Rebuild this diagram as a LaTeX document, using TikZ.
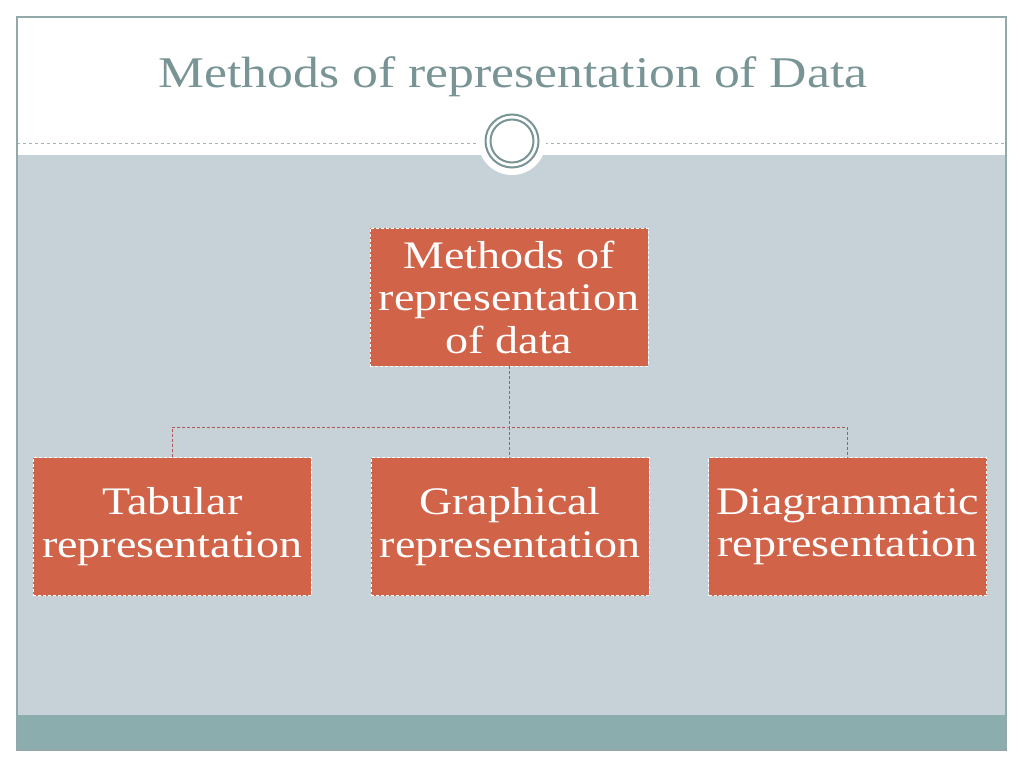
\documentclass[tikz,border=0pt]{standalone}
\usepackage{fontspec}
\setmainfont[FakeStretch=1.18]{Liberation Serif}
\usetikzlibrary{positioning}

\definecolor{slide}{RGB}{198,210,216}
\definecolor{band}{RGB}{139,173,173}
\definecolor{titlegray}{RGB}{120,148,148}
\definecolor{boxred}{RGB}{209,99,73}
\definecolor{linkred}{RGB}{172,92,84}

\begin{document}
\begin{tikzpicture}[
    x=1pt, y=-1pt,
    block/.style={rectangle, draw=white, densely dashed, line width=0.6pt, fill=boxred,
      text=white, minimum width=278pt, minimum height=138pt, align=center,
      inner sep=2pt, font=\fontsize{39}{42.5}\selectfont},
    link/.style={draw=linkred, densely dashed, line width=1pt},
    frame/.style={draw=titlegray!80, line width=1.2pt}
]
\useasboundingbox[fill=white] (0,0) rectangle (1024,768);

% Slide background
\fill[slide] (17,155) rectangle (1006,715);
\fill[band] (17,715) rectangle (1006,750);
\draw[titlegray!70, dashed, line width=0.8pt] (17,143) -- (1006,143);
\draw[frame] (17,17) rectangle (1006,750);

% Title
\node[text=titlegray, font=\fontsize{43.8}{50}\selectfont] (title) at (513,77) {Methods of representation of Data};

% Ornament
\fill[white] (512,141) circle (34);
\draw[titlegray, line width=2pt] (512,141) circle (26.5);
\draw[titlegray, line width=2pt] (512,141) circle (21.5);

% Root
\node[block] (root) at (509,297) {Methods of\\representation\\of data};

% Children
\node[block, below=91pt of root, xshift=1pt] (graph) {Graphical\\representation};
\node[block, left=59pt of graph] (tab) {Tabular\\representation};
\node[block, right=59pt of graph] (diag) {Diagrammatic\\representation};

% Connectors
\coordinate (bus) at (509,427);
\draw[link] (root.south) -- (bus);
\draw[link] (tab.north) |- (bus) -| (diag.north);
\draw[link] (bus) -- (bus |- graph.north);

\end{tikzpicture}
\end{document}
